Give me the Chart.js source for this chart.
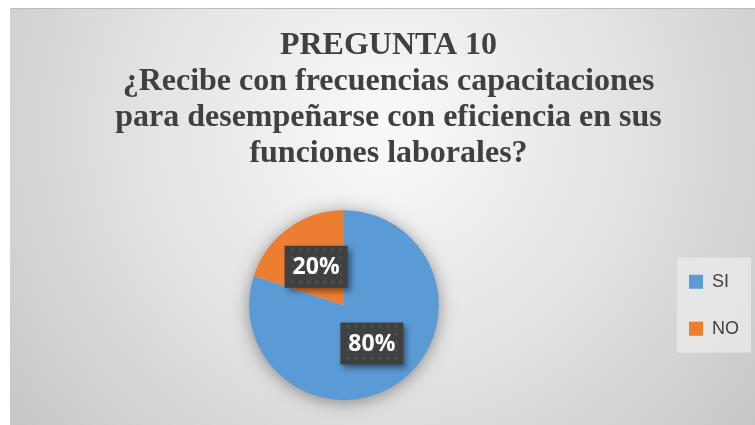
<!DOCTYPE html>
<html>
<head>
<meta charset="utf-8">
<script src="https://cdn.jsdelivr.net/npm/chart.js@4.4.1/dist/chart.umd.min.js"></script>
<style>
  html, body { margin: 0; padding: 0; background: #fff; }
  #wrap { width: 755px; height: 425px; position: relative; }
</style>
</head>
<body>
<div id="wrap"><canvas id="pregunta10Chart" width="755" height="425"></canvas></div>
<script>
const labels = ["SI", "NO"];
const values = [80, 20];
const colors = ["#5b9bd5", "#ed7d31"];
const titleLines = [
  "PREGUNTA 10",
  "¿Recibe con frecuencias capacitaciones",
  "para desempeñarse con eficiencia en sus",
  "funciones laborales?"
];

// grey gradient background like the office template
const backgroundPlugin = {
  id: "bgGradient",
  beforeDraw(chart) {
    const c = chart.ctx;
    c.save();
    c.fillStyle = "#ffffff";
    c.fillRect(0, 0, chart.width, chart.height);
    const g = c.createRadialGradient(385, 130, 20, 385, 130, 480);
    g.addColorStop(0, "#f8f8f8");
    g.addColorStop(0.5, "#e2e2e2");
    g.addColorStop(1, "#c6c6c6");
    c.fillStyle = g;
    c.fillRect(10, 8, chart.width - 10, chart.height - 8);
    c.fillStyle = "#bdbdbd";
    c.fillRect(10, 8, chart.width - 10, 1);

    // soft shadow under the pie
    const meta = chart.getDatasetMeta(0);
    if (meta.data.length) {
      const arc = meta.data[0];
      c.shadowColor = "rgba(0,0,0,0.45)";
      c.shadowBlur = 18;
      c.shadowOffsetY = 2;
      c.fillStyle = "#cfcfcf";
      c.beginPath();
      c.arc(arc.x, arc.y, arc.outerRadius - 1, 0, Math.PI * 2);
      c.fill();
    }

    // legend panel
    const boxes = chart.legend.legendHitBoxes;
    if (boxes && boxes.length) {
      const last = boxes[boxes.length - 1];
      c.shadowColor = "transparent";
      c.fillStyle = "rgba(235,235,235,0.75)";
      c.fillRect(boxes[0].left - 12, boxes[0].top - 15, 74, last.top + last.height - boxes[0].top + 30);
    }
    c.restore();
  }
};

// dark boxed percentage labels
const pctLabelPlugin = {
  id: "pctLabels",
  afterDatasetsDraw(chart) {
    const c = chart.ctx;
    const meta = chart.getDatasetMeta(0);
    const total = values.reduce((a, b) => a + b, 0);
    meta.data.forEach((arc, i) => {
      const p = arc.tooltipPosition();
      const w = 63, h = 42;
      const x = p.x - w / 2, y = p.y - h / 2;
      c.save();
      c.shadowColor = "rgba(0,0,0,0.45)";
      c.shadowBlur = 6;
      c.shadowOffsetX = 3;
      c.shadowOffsetY = 3;
      c.fillStyle = "#404040";
      c.fillRect(x, y, w, h);
      c.shadowColor = "transparent";
      c.fillStyle = "rgba(110,110,110,0.45)";
      for (let yy = y + 4; yy < y + h; yy += 8) {
        for (let xx = x + 4 + ((yy - y) % 16 ? 4 : 0); xx < x + w; xx += 8) {
          c.beginPath();
          c.arc(xx, yy, 1.2, 0, Math.PI * 2);
          c.fill();
        }
      }
      c.fillStyle = "#ffffff";
      c.font = "bold 23px 'Open Sans', 'Liberation Sans', Arial, sans-serif";
      c.textAlign = "center";
      c.textBaseline = "middle";
      c.fillText(Math.round(values[i] / total * 100) + "%", p.x, p.y + 1);
      c.restore();
    });
  }
};

new Chart(document.getElementById("pregunta10Chart").getContext("2d"), {
  type: "pie",
  data: {
    labels: labels,
    datasets: [{
      data: values,
      backgroundColor: colors,
      borderWidth: 0
    }]
  },
  options: {
    responsive: false,
    animation: false,
    layout: { padding: { left: 28, right: 6, top: 0, bottom: 25 } },
    plugins: {
      tooltip: { enabled: false },
      title: {
        display: true,
        text: titleLines,
        color: "#404040",
        font: { family: "'Liberation Serif', 'Times New Roman', serif", size: 32, weight: "bold", lineHeight: 1.12 },
        padding: { top: 28, bottom: 39 }
      },
      legend: {
        position: "right",
        fullSize: false,
        labels: {
          color: "#404040",
          boxWidth: 14,
          boxHeight: 14,
          padding: 29,
          font: { family: "'Liberation Sans', Arial, sans-serif", size: 18 }
        }
      }
    }
  },
  plugins: [backgroundPlugin, pctLabelPlugin]
});
</script>
</body>
</html>
